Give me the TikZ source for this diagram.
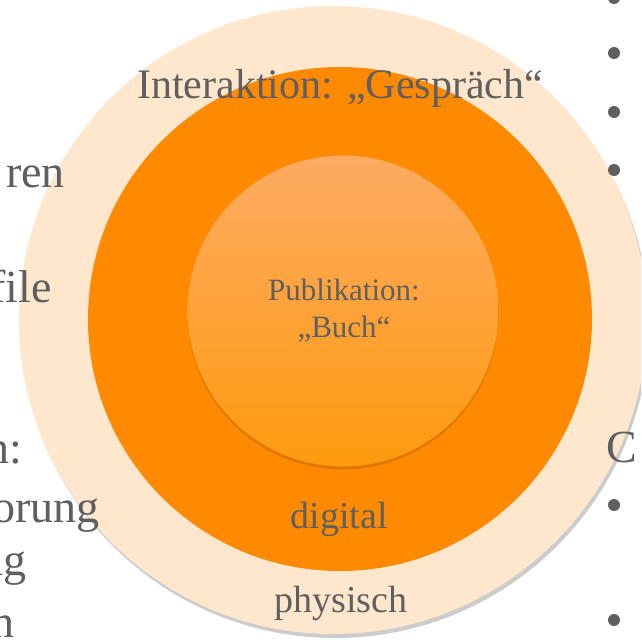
\documentclass[tikz,border=0pt]{standalone}
\usepackage{fontspec}
\setmainfont{Liberation Serif}
\usetikzlibrary{shadows}
\definecolor{outercol}{HTML}{FFE7CD}
\definecolor{midcol}{HTML}{FF8A00}
\definecolor{innertop}{HTML}{FDAB63}
\definecolor{innerbot}{HTML}{FF9A0E}
\definecolor{txtgray}{HTML}{5F5F5F}
\tikzset{
  ring/.style = {circle, inner sep = 0pt, draw = none},
  slidetext/.style = {text = txtgray, inner sep = 0pt, font = \fontsize{42}{48}\selectfont},
  sidetext/.style = {text = txtgray, inner sep = 0pt, font = \fontsize{46}{52}\selectfont},
  ringtext/.style = {text = txtgray, inner sep = 0pt, anchor = base, font = \fontsize{38}{44}\selectfont},
  coretext/.style = {text = txtgray, inner sep = 0pt, anchor = base, font = \fontsize{31}{36}\selectfont}
}
\begin{document}
\begin{tikzpicture}[x = 1pt, y = -1pt]
\useasboundingbox (0, 0) rectangle (641, 642);
\clip (0, 0) rectangle (641, 642);
\fill[white] (0, 0) rectangle (641, 642);
% rings
\node[ring, fill = outercol, minimum size = 628pt,
  drop shadow = {shadow xshift = 2pt, shadow yshift = -4pt, opacity = .2, fill = black}] (outer) at (333, 320) {};
\node[ring, fill = midcol, minimum size = 504pt] (mid) at (340, 319) {};
\node[ring, top color = innertop, bottom color = innerbot, minimum size = 311pt,
  drop shadow = {shadow xshift = 0pt, shadow yshift = -3pt, opacity = .18, fill = black!70!midcol}] (inner) at (343, 311) {};
% labels
\node[slidetext, anchor = base] (gespraech) at (340, 98) {Interaktion: „Gespräch“};
\node[coretext] (pub) at (344, 300) {Publikation:};
\node[coretext] (buch) at ([yshift = -37pt] pub.base) {„Buch“};
\node[ringtext] (digital) at (339, 528) {digital};
\node[ringtext] (physisch) at (341, 612) {physisch};
% left column, cut off by the crop
\node[sidetext, anchor = base east] (l1) at (65, 187) {ren};
\node[sidetext, anchor = base east] (l2) at (52, 302) {file};
\node[sidetext, anchor = base east] (l3) at (22, 463) {n:};
\node[sidetext, anchor = base east] (l4) at (100, 522) {orung};
\node[sidetext, anchor = base east] (l5) at (27, 575) {ng};
\node[sidetext, anchor = base east] (l6) at (15, 637) {n};
% right column
\foreach \y in {-2, 53, 112, 170, 505, 620}
  \fill[txtgray] (614, \y) circle (6);
\node[sidetext, anchor = base west] (r1) at (606, 462) {C};
\end{tikzpicture}
\end{document}
